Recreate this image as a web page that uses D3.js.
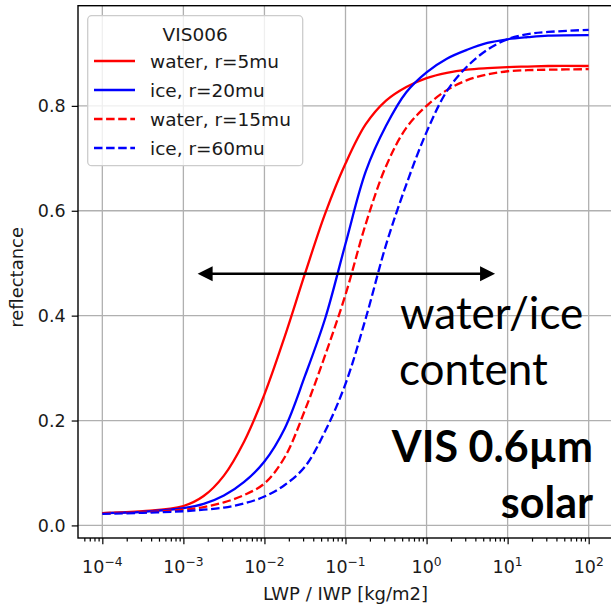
<!DOCTYPE html>
<html><head><meta charset="utf-8">
<script src="https://cdn.jsdelivr.net/npm/d3@7"></script>
<style>body{margin:0;background:#fff} svg{display:block}</style>
</head><body><svg id="c" width="611" height="608"></svg>
<script>
// ---- data ----
const logLWP   = [-4, -3.5, -3, -2.75, -2.5, -2.25, -2, -1.75, -1.5, -1.25, -1, -0.75, -0.5, -0.25, 0, 0.25, 0.5, 0.75, 1, 1.25, 1.5, 2];
const waterR5  = [0.0235,0.027,0.037,0.056,0.095,0.16,0.25,0.36,0.48,0.595,0.69,0.765,0.81,0.836,0.853,0.863,0.869,0.872,0.874,0.875,0.876,0.876];
const iceR20   = [0.0235,0.026,0.033,0.041,0.057,0.083,0.122,0.185,0.285,0.395,0.537,0.675,0.762,0.826,0.864,0.89,0.907,0.92,0.927,0.931,0.934,0.935];
const waterR15 = [0.0235,0.025,0.030,0.035,0.044,0.058,0.080,0.13,0.22,0.325,0.44,0.575,0.685,0.758,0.80,0.83,0.849,0.86,0.866,0.868,0.869,0.870];
const iceR60   = [0.022,0.024,0.027,0.030,0.034,0.042,0.055,0.077,0.112,0.18,0.27,0.395,0.535,0.65,0.75,0.828,0.875,0.907,0.927,0.937,0.941,0.945];
const seriesNames  = ["water, r=5mu", "ice, r=20mu", "water, r=15mu", "ice, r=60mu"];
const seriesValues = [waterR5, iceR20, waterR15, iceR60];
const seriesColors = ["#ff0000", "#0000ff", "#ff0000", "#0000ff"];
const seriesDashed = [false, false, true, true];
const xTickExps = [-4, -3, -2, -1, 0, 1, 2];
const yTicks = [0, 0.2, 0.4, 0.6, 0.8];
const legendTitle = "VIS006";
const xLabel = "LWP / IWP [kg/m2]";
const yLabel = "reflectance";
const arrowX = [1.5e-3, 7.0];
const arrowY = 0.48;
const noteLines1 = ["water/ice", "content"];
const noteLines2 = ["VIS 0.6µm", "solar"];

// ---- layout ----
const L = 78, R = 613, T = 5.7, B = 538;
const svg = d3.select("#c");
const x = d3.scaleLog().domain([Math.pow(10, -4.3), Math.pow(10, 2.3)]).range([L, R]);
const y = d3.scaleLinear().domain([-0.024, 0.991]).range([B, T]);
const FONT = "'DejaVu Sans', sans-serif";
const TXT = "#1a1a1a";

// grid
const gridColor = "#b0b0b0";
svg.append("g").selectAll("line").data(xTickExps).join("line")
  .attr("x1", d => x(Math.pow(10, d))).attr("x2", d => x(Math.pow(10, d)))
  .attr("y1", T).attr("y2", B).attr("stroke", gridColor).attr("stroke-width", 1.3);
svg.append("g").selectAll("line").data(yTicks).join("line")
  .attr("x1", L).attr("x2", R).attr("y1", d => y(d)).attr("y2", d => y(d))
  .attr("stroke", gridColor).attr("stroke-width", 1.3);

// curves
const line = d3.line().x((d, i) => x(Math.pow(10, logLWP[i]))).y(d => y(d)).curve(d3.curveCatmullRom.alpha(0.5));
seriesValues.forEach((vals, k) => {
  svg.append("path").attr("d", line(vals)).attr("fill", "none")
    .attr("stroke", seriesColors[k]).attr("stroke-width", 2.3)
    .attr("stroke-dasharray", seriesDashed[k] ? "8.5,3.6" : null);
});

// spines
svg.append("rect").attr("x", L).attr("y", T).attr("width", R - L).attr("height", B - T)
  .attr("fill", "none").attr("stroke", "#000").attr("stroke-width", 1.4);

// x axis ticks
const majors = xTickExps.map(e => Math.pow(10, e));
const minors = [];
for (let e = -5; e <= 2; e++) for (let m = 2; m <= 9; m++) {
  const v = m * Math.pow(10, e);
  if (v >= x.domain()[0] && v <= x.domain()[1]) minors.push(v);
}
const gx = svg.append("g").attr("transform", `translate(0,${B})`)
  .call(d3.axisBottom(x).tickValues(majors).tickSize(6.3).tickFormat(""));
const gxm = svg.append("g").attr("transform", `translate(0,${B})`)
  .call(d3.axisBottom(x).tickValues(minors).tickSize(3.6).tickFormat(""));
[gx, gxm].forEach(g => { g.select(".domain").remove(); g.selectAll(".tick line").attr("stroke", "#000").attr("stroke-width", 1.2); });
gx.selectAll(".tick text").remove();
xTickExps.forEach(e => {
  const t = svg.append("text").attr("x", x(Math.pow(10, e))).attr("y", 572.7)
    .attr("text-anchor", "middle").attr("font-family", FONT).attr("font-size", 17.5).attr("fill", TXT);
  t.append("tspan").text("10");
  t.append("tspan").attr("font-size", 12.3).attr("dy", -7).text(e < 0 ? "\u2212" + Math.abs(e) : String(e));
});

// y axis
const gy = svg.append("g").attr("transform", `translate(${L},0)`)
  .call(d3.axisLeft(y).tickValues(yTicks).tickSize(6.3).tickPadding(6).tickFormat(d3.format(".1f")));
gy.select(".domain").remove();
gy.selectAll(".tick line").attr("stroke", "#000").attr("stroke-width", 1.2);
gy.selectAll(".tick text").attr("font-family", FONT).attr("font-size", 17.5).attr("fill", TXT);

// axis labels
svg.append("text").attr("x", (L + R) / 2).attr("y", 600).attr("text-anchor", "middle")
  .attr("font-family", FONT).attr("font-size", 18).attr("fill", TXT).text(xLabel);
svg.append("text").attr("transform", `translate(23,${(T + B) / 2 + 5.5}) rotate(-90)`).attr("text-anchor", "middle")
  .attr("font-family", FONT).attr("font-size", 18).attr("fill", TXT).text(yLabel);

// legend
const lg = svg.append("g");
lg.append("rect").attr("x", 87.7).attr("y", 15.7).attr("width", 215).attr("height", 150).attr("rx", 4)
  .attr("fill", "#fff").attr("fill-opacity", 0.8).attr("stroke", "#cccccc").attr("stroke-width", 1.3);
lg.append("text").attr("x", 195.2).attr("y", 40.6).attr("text-anchor", "middle")
  .attr("font-family", FONT).attr("font-size", 18.5).attr("fill", TXT).text(legendTitle);
seriesNames.forEach((name, k) => {
  const cy = 61 + k * 29;
  lg.append("line").attr("x1", 94).attr("x2", 135).attr("y1", cy).attr("y2", cy)
    .attr("stroke", seriesColors[k]).attr("stroke-width", 2.3)
    .attr("stroke-dasharray", seriesDashed[k] ? "8.5,3.6" : null);
  lg.append("text").attr("x", 150).attr("y", cy + 7).attr("font-family", FONT)
    .attr("font-size", 18.5).attr("fill", TXT).text(name);
});

// annotation arrow
const ax0 = x(arrowX[0]), ax1 = x(arrowX[1]), ay = y(arrowY);
const hl = 15, hw = 7.5;
svg.append("line").attr("x1", ax0 + hl - 1).attr("x2", ax1 - hl + 1).attr("y1", ay).attr("y2", ay)
  .attr("stroke", "#000").attr("stroke-width", 2.6);
svg.append("path").attr("d", `M${ax0},${ay}L${ax0 + hl},${ay - hw}L${ax0 + hl},${ay + hw}Z`).attr("fill", "#000");
svg.append("path").attr("d", `M${ax1},${ay}L${ax1 - hl},${ay - hw}L${ax1 - hl},${ay + hw}Z`).attr("fill", "#000");

// annotation texts
const NOTE = "Lato, 'Open Sans', sans-serif";
svg.append("text").attr("x", 400).attr("y", 329.3).attr("font-family", NOTE).attr("font-size", 44)
  .attr("fill", "#000").text(noteLines1[0]);
svg.append("text").attr("x", 399).attr("y", 385).attr("font-family", NOTE).attr("font-size", 44)
  .attr("fill", "#000").text(noteLines1[1]);
svg.append("text").attr("x", 593).attr("y", 461.7).attr("text-anchor", "end").attr("font-family", NOTE)
  .attr("font-weight", "bold").attr("font-size", 43).attr("fill", "#000").text(noteLines2[0]);
svg.append("text").attr("x", 593).attr("y", 518.3).attr("text-anchor", "end").attr("font-family", NOTE)
  .attr("font-weight", "bold").attr("font-size", 43).attr("fill", "#000").text(noteLines2[1]);
</script></body></html>
